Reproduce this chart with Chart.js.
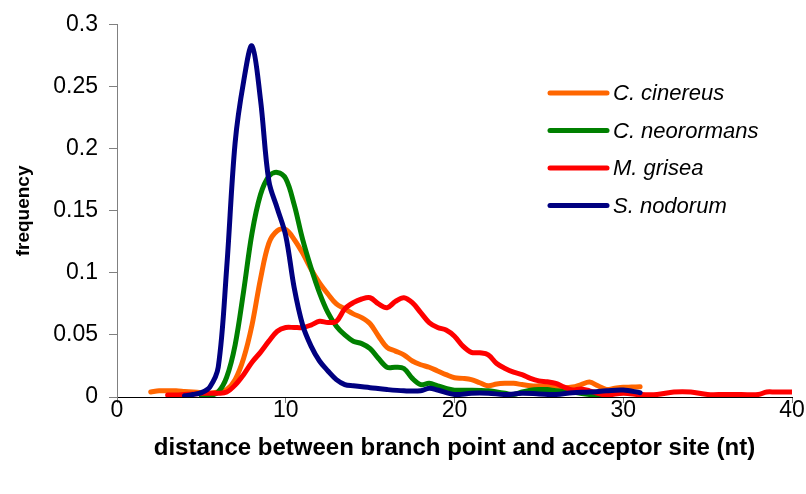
<!DOCTYPE html>
<html>
<head>
<meta charset="utf-8">
<script src="https://cdn.jsdelivr.net/npm/chart.js@4/dist/chart.umd.min.js"></script>
<style>
  html, body { margin: 0; padding: 0; background: #ffffff; }
  #wrap { width: 806px; height: 494px; }
</style>
</head>
<body>
<div id="wrap"><canvas id="c" width="806" height="494"></canvas></div>
<script>
// ---------------- data ----------------
const seriesNames = ['C. cinereus', 'C. neorormans', 'M. grisea', 'S. nodorum'];
const seriesColors = ['#FF6600', '#008000', '#FF0000', '#000080'];

const cinereusX = [2,2.5,3,3.5,4,4.5,5,5.5,6,6.5,7,7.5,8,8.5,9,9.5,10,10.5,11,11.5,12,12.5,13,13.5,14,14.5,15,15.5,16,16.5,17,17.5,18,18.5,19,19.5,20,20.5,21,21.5,22,22.5,23,23.5,24,24.5,25,25.5,26,26.5,27,27.5,28,28.5,29,29.5,30,30.5,31];
const cinereusY = [0.004,0.005,0.005,0.005,0.0045,0.004,0.0035,0.003,0.004,0.006,0.014,0.031,0.058,0.095,0.124,0.134,0.135,0.127,0.116,0.103,0.092,0.083,0.075,0.071,0.067,0.064,0.059,0.049,0.040,0.037,0.034,0.029,0.026,0.024,0.021,0.018,0.0155,0.015,0.014,0.0115,0.009,0.0105,0.011,0.011,0.010,0.009,0.009,0.009,0.008,0.0075,0.008,0.010,0.012,0.009,0.006,0.007,0.0078,0.008,0.0083];

const neorormansX = [5,5.5,6,6.5,7,7.5,8,8.5,9,9.5,10,10.5,11,11.5,12,12.5,13,13.5,14,14.5,15,15.5,16,16.5,17,17.5,18,18.5,19,19.5,20,21,22,22.5,23,23.5,24,24.5,25,25.5,26,27,28,29];
const neorormansY = [0.0,0.001,0.004,0.016,0.042,0.085,0.132,0.163,0.178,0.181,0.176,0.155,0.127,0.104,0.084,0.068,0.057,0.050,0.045,0.043,0.039,0.031,0.024,0.024,0.023,0.015,0.010,0.011,0.009,0.007,0.0055,0.0055,0.005,0.004,0.003,0.002,0.004,0.0055,0.006,0.006,0.005,0.004,0.002,0.002];

const griseaX = [3,3.5,4,4.5,5,5.5,6,6.5,7,7.5,8,8.5,9,9.5,10,10.5,11,11.5,12,12.5,13,13.5,14,14.5,15,15.5,16,16.5,17,17.5,18,18.5,19,19.5,20,20.5,21,21.5,22,22.5,23,23.5,24,24.5,25,25.5,26,26.5,27,27.5,28,28.5,29,30,31,32,33,34,35,36,37,38,38.5,39,40];
const griseaY = [0.0016,0.0016,0.002,0.0024,0.003,0.003,0.003,0.004,0.0096,0.018,0.028,0.036,0.045,0.053,0.056,0.056,0.056,0.058,0.061,0.060,0.061,0.071,0.076,0.079,0.080,0.075,0.072,0.077,0.080,0.076,0.068,0.060,0.056,0.054,0.049,0.041,0.036,0.0356,0.034,0.027,0.023,0.020,0.018,0.015,0.013,0.0123,0.011,0.008,0.0056,0.0065,0.005,0.003,0.0016,0.003,0.002,0.002,0.004,0.004,0.002,0.002,0.002,0.002,0.004,0.004,0.004];

const nodorumX = [4,4.5,5,5.5,6,6.5,7,7.5,8,8.5,9,9.5,10,10.5,11,11.5,12,12.5,13,13.5,14,15,16,17,18,18.5,19,20,21,22,23,24,25,26,27,28,29,30,31];
const nodorumY = [0.001,0.002,0.0035,0.008,0.024,0.104,0.205,0.254,0.283,0.240,0.174,0.152,0.130,0.088,0.058,0.041,0.029,0.021,0.014,0.010,0.009,0.0075,0.006,0.005,0.005,0.007,0.0056,0.002,0.003,0.003,0.002,0.003,0.0025,0.002,0.0035,0.004,0.005,0.0056,0.0035];

const xTickLabels = ['0', '10', '20', '30', '40'];
const yTickLabels = ['0', '0.05', '0.1', '0.15', '0.2', '0.25', '0.3'];
const xAxisTitle = 'distance between branch point and acceptor site (nt)';
const yAxisTitle = 'frequency';

// ---------------- build ----------------
const FONT = '"Liberation Sans", Arial, Helvetica, sans-serif';
const xs = [cinereusX, neorormansX, griseaX, nodorumX];
const ys = [cinereusY, neorormansY, griseaY, nodorumY];

const datasets = seriesNames.map((name, i) => ({
  label: name,
  data: xs[i].map((x, j) => ({ x: x, y: ys[i][j] })),
  borderColor: seriesColors[i],
  backgroundColor: seriesColors[i],
  borderWidth: 5,
  pointRadius: 0,
  pointHoverRadius: 0,
  tension: 0.35,
  borderCapStyle: 'round',
  borderJoinStyle: 'round',
  fill: false,
  order: seriesNames.length - 1 - i   // later series drawn on top (as in the reference)
}));

const legendPlugin = {
  id: 'sideLegend',
  afterDraw(chart) {
    const ctx = chart.ctx;
    const x0 = 550, x1 = 607, tx = 613, y0 = 93, dy = 37.5;
    ctx.save();
    chart.data.datasets.forEach((ds, i) => {
      const y = y0 + i * dy;
      ctx.strokeStyle = ds.borderColor;
      ctx.lineWidth = 5;
      ctx.lineCap = 'round';
      ctx.beginPath();
      ctx.moveTo(x0, y);
      ctx.lineTo(x1, y);
      ctx.stroke();
      ctx.fillStyle = '#000000';
      ctx.font = 'italic 22px ' + FONT;
      ctx.textAlign = 'left';
      ctx.textBaseline = 'middle';
      ctx.fillText(ds.label, tx, y + 1);
    });
    ctx.restore();
  }
};

new Chart(document.getElementById('c'), {
  type: 'line',
  data: { datasets: datasets },
  options: {
    responsive: false,
    devicePixelRatio: 1,
    animation: false,
    events: [],
    layout: { padding: { left: 0, right: 14, top: 23, bottom: 0 } },
    plugins: {
      legend: { display: false },
      tooltip: { enabled: false },
      title: { display: false }
    },
    scales: {
      x: {
        type: 'linear',
        min: 0, max: 40,
        afterFit: (s) => { s.height = 97; },
        afterBuildTicks: (s) => { s.ticks = xTickLabels.map(v => ({ value: Number(v) })); },
        ticks: {
          callback: (v) => xTickLabels.find(t => Number(t) === v) || '',
          font: { family: FONT, size: 23, lineHeight: 1 },
          color: '#000000',
          padding: -4,
          maxRotation: 0,
          autoSkip: false
        },
        grid: { drawOnChartArea: false, drawTicks: true, tickLength: 6, tickColor: '#808080', tickWidth: 1 },
        border: { display: true, color: '#000000', width: 1 },
        title: {
          display: true,
          text: xAxisTitle,
          font: { family: FONT, size: 24, weight: 'bold' },
          color: '#000000',
          padding: { top: 0, bottom: 31 }
        }
      },
      y: {
        type: 'linear',
        min: 0, max: 0.3,
        afterFit: (s) => { s.width = 117; },
        afterBuildTicks: (s) => { s.ticks = yTickLabels.map(v => ({ value: Number(v) })); },
        ticks: {
          callback: (v) => yTickLabels.find(t => Math.abs(Number(t) - v) < 1e-9) || '',
          font: { family: FONT, size: 23 },
          color: '#000000',
          padding: 11,
          autoSkip: false
        },
        grid: { drawOnChartArea: false, drawTicks: true, tickLength: 8, tickColor: '#808080', tickWidth: 1 },
        border: { display: true, color: '#808080', width: 1 },
        title: {
          display: true,
          text: yAxisTitle,
          font: { family: FONT, size: 19, weight: 'bold' },
          color: '#000000',
          padding: { top: 12, bottom: 0 }
        }
      }
    }
  },
  plugins: [legendPlugin]
});
</script>
</body>
</html>
